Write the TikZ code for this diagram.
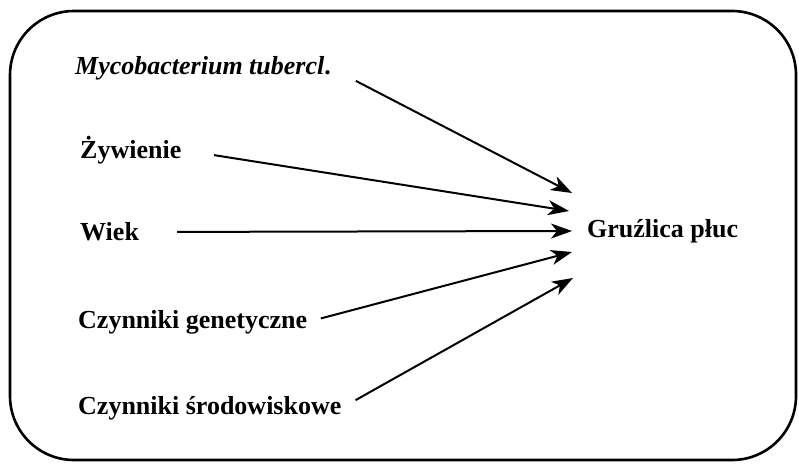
\documentclass[tikz,border=0pt]{standalone}
\usepackage{fontspec}
\setmainfont{Liberation Serif}
\usetikzlibrary{arrows.meta, positioning, calc}
\tikzset{
  lab/.style={anchor=west, inner sep=0pt, font=\fontsize{26}{30}\selectfont\bfseries},
  tra/.style={-{Stealth[length=21pt, width=15pt, inset=6pt]}, line width=2pt},
  frame/.style={draw, line width=2.6pt, rounded corners=64pt}
}

\begin{document}
\begin{tikzpicture}[x=1pt, y=-1pt]
		\useasboundingbox (0,0) rectangle (799,463);
		% frame
		\draw[frame] (10,11) rectangle (796,460);
		% factors
		\node[lab] (myco) at (75,68) {\textit{Mycobacterium tubercl}.};
		\node[lab] (zyw) at (80,150) {Żywienie};
		\node[lab] (wiek) at (80,232) {Wiek};
		\node[lab] (gen) at (78,322) {Czynniki genetyczne};
		\node[lab] (srod) at (78,408) {Czynniki środowiskowe};
		% outcome
		\node[lab] (gp) at (587,231) {Gruźlica płuc};
		\coordinate (in1) at ($(gp.west)+(-15,-38)$);
		\coordinate (in2) at ($(gp.west)+(-18,-20)$);
		\coordinate (in3) at ($(gp.west)+(-15,0)$);
		\coordinate (in4) at ($(gp.west)+(-15,21)$);
		\coordinate (in5) at ($(gp.west)+(-14,47)$);
		% arrows
		\draw[tra, shorten <=28pt] (myco.east) -- (in1);
		\draw[tra, shorten <=33pt] (zyw.east) -- (in2);
		\draw[tra, shorten <=38pt] (wiek.east) -- (in3);
		\draw[tra, shorten <=14pt] (gen.east) -- (in4);
		\draw[tra, shorten <=16pt] (srod.east) -- (in5);
	\end{tikzpicture}
\end{document}
